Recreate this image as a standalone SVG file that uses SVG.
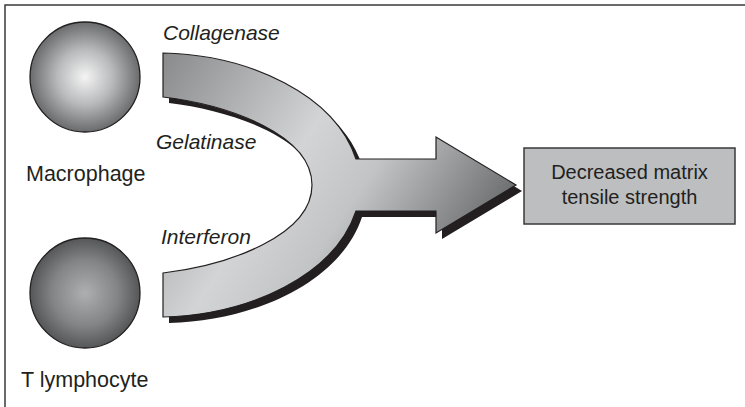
<svg xmlns="http://www.w3.org/2000/svg" width="745" height="407" viewBox="0 0 745 407">
  <style>
    .lbl { font-family: "Liberation Sans", Arial, Helvetica, sans-serif; font-size: 21.5px; fill: #231f20; }
    .it { font-style: italic; font-size: 21px; }
    .box { font-size: 20px; }
    .frame { fill: none; stroke: #3a3a3a; stroke-width: 1.5; }
    .cell { stroke: #231f20; stroke-width: 1.3; }
  </style>
  <defs>
    <radialGradient id="gMac" cx="85" cy="77" r="55" gradientUnits="userSpaceOnUse">
      <stop offset="0" stop-color="#f4f4f4"/>
      <stop offset="0.5" stop-color="#b9babc"/>
      <stop offset="1" stop-color="#6a6b6d"/>
    </radialGradient>
    <radialGradient id="gT" cx="85" cy="293" r="55" gradientUnits="userSpaceOnUse">
      <stop offset="0" stop-color="#aeafb1"/>
      <stop offset="0.6" stop-color="#838486"/>
      <stop offset="1" stop-color="#555658"/>
    </radialGradient>
    <linearGradient id="gArrow" x1="165" y1="55" x2="525" y2="292" gradientUnits="userSpaceOnUse">
      <stop offset="0" stop-color="#8a8b8d"/>
      <stop offset="0.38" stop-color="#d3d4d6"/>
      <stop offset="0.55" stop-color="#c3c4c6"/>
      <stop offset="0.85" stop-color="#6d6e70"/>
      <stop offset="1" stop-color="#5a5b5d"/>
    </linearGradient>
    <path id="arrowShape" d="M163,53 C250,55 335,95 356,159 L436,159 L436,137 L516,185 L436,233 L436,211 L356,211 C335,275 250,315 163,317 L163,273 C230,265 312,235 312,185 C312,135 230,105 163,97 Z"/>
  </defs>

  <g id="frame">
    <polyline class="frame" points="5,407 5,5 745,5"/>
  </g>

  <g id="connectors">
    <use href="#arrowShape" transform="translate(6,6)" fill="#231f20"/>
    <use href="#arrowShape" fill="url(#gArrow)" stroke="#231f20" stroke-width="1.2" stroke-linejoin="miter"/>
    <text class="lbl it" x="163" y="40">Collagenase</text>
    <text class="lbl it" x="156" y="149">Gelatinase</text>
    <text class="lbl it" x="161" y="244">Interferon</text>
  </g>

  <g id="macrophage">
    <circle class="cell" cx="85" cy="77" r="55" fill="url(#gMac)"/>
    <text class="lbl" x="26" y="181">Macrophage</text>
  </g>

  <g id="tlymphocyte">
    <circle class="cell" cx="85" cy="293" r="55" fill="url(#gT)"/>
    <text class="lbl" x="21" y="387">T lymphocyte</text>
  </g>

  <g id="outcome">
    <rect x="524" y="148" width="211" height="76" fill="#bcbec0" stroke="#3a3a3a" stroke-width="1.5"/>
    <text class="lbl box" x="629.5" y="179" text-anchor="middle">Decreased matrix</text>
    <text class="lbl box" x="629.5" y="204" text-anchor="middle">tensile strength</text>
  </g>
</svg>
